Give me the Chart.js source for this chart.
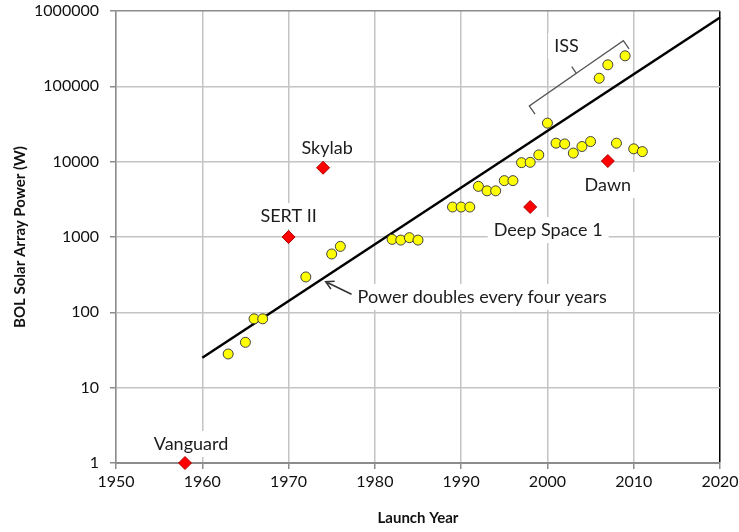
<!DOCTYPE html>
<html>
<head>
<meta charset="utf-8">
<script src="https://cdn.jsdelivr.net/npm/chart.js@4.4.1/dist/chart.umd.min.js"></script>
<style>
  html, body { margin: 0; padding: 0; background: #fff; }
  #wrap { width: 739px; height: 532px; position: relative; }
</style>
</head>
<body>
<div id="wrap"><canvas id="chart"></canvas></div>
<script>
// spacecraft solar arrays (yellow circles)
const craftYears = [1963, 1965, 1966, 1967, 1972, 1975, 1976, 1982, 1983, 1984, 1985,
  1989, 1990, 1991, 1992, 1993, 1994, 1995, 1996, 1997, 1998, 1999, 2000,
  2001, 2002, 2003, 2004, 2005, 2006, 2007, 2008, 2009, 2010, 2011];
const craftPower = [28, 40, 82, 82, 295, 595, 750, 930, 910, 980, 910,
  2500, 2500, 2500, 4700, 4100, 4100, 5600, 5600, 9700, 9800, 12300, 32500,
  17600, 17200, 13000, 15900, 18500, 128000, 193000, 17600, 254000, 14800, 13600];

// named missions (red diamonds)
const missionNames = ['Vanguard', 'SERT II', 'Skylab', 'Deep Space 1', 'Dawn'];
const missionYears = [1958, 1970, 1974, 1998, 2007];
const missionPower = [1, 1000, 8300, 2500, 10200];

// fitted trend, power doubles every four years
const trendYears = [1960, 2020];
const trendPower = [25, 819200];

const yearTicks = [1950, 1960, 1970, 1980, 1990, 2000, 2010, 2020];
const powerTicks = [1, 10, 100, 1000, 10000, 100000, 1000000];

const FONT = "Lato, 'Open Sans', sans-serif";
Chart.defaults.font.family = FONT;
Chart.defaults.color = '#111';

// label offsets (px) from each mission marker
const labelShift = [[6, -19], [0, -21], [4, -20], [18, 23], [0, 24]];

function pts(xs, ys) {
    return xs.map((v, i) => ({ x: v, y: ys[i] }));
}

function boxText(ctx, text, px, py, align) {
    const w = ctx.measureText(text).width;
    const left = align === 'left' ? px : px - w / 2;
    ctx.fillStyle = '#fff';
    ctx.fillRect(left - 6, py - 13, w + 12, 26);
    ctx.fillStyle = '#1c1c1c';
    ctx.textAlign = align;
    ctx.fillText(text, px, py);
}

const notes = {
    id: 'notes',
    beforeDatasetsDraw(chart) {
        const ctx = chart.ctx;
        const x = chart.scales.x, y = chart.scales.y;
        ctx.save();
        ctx.font = '18px ' + FONT;
        ctx.textBaseline = 'middle';

        missionNames.forEach((name, i) => {
            const px = x.getPixelForValue(missionYears[i]) + labelShift[i][0];
            const py = y.getPixelForValue(missionPower[i]) + labelShift[i][1];
            boxText(ctx, name, px, py, 'center');
        });

        // trend note with arrow
        boxText(ctx, 'Power doubles every four years',
            x.getPixelForValue(1978), y.getPixelForValue(160), 'left');
        const ax0 = x.getPixelForValue(1977.3), ay0 = y.getPixelForValue(174);
        const ax1 = x.getPixelForValue(1974.3), ay1 = y.getPixelForValue(255);
        const ang = Math.atan2(ay0 - ay1, ax0 - ax1);
        ctx.strokeStyle = '#333';
        ctx.lineWidth = 1.5;
        ctx.beginPath();
        ctx.moveTo(ax0, ay0);
        ctx.lineTo(ax1, ay1);
        ctx.moveTo(ax1 + 9 * Math.cos(ang + 0.5), ay1 + 9 * Math.sin(ang + 0.5));
        ctx.lineTo(ax1, ay1);
        ctx.lineTo(ax1 + 9 * Math.cos(ang - 0.5), ay1 + 9 * Math.sin(ang - 0.5));
        ctx.stroke();

        // ISS brace
        const bx0 = x.getPixelForValue(1997.9), by0 = y.getPixelForValue(55000);
        const bx1 = x.getPixelForValue(2008.8), by1 = y.getPixelForValue(404000);
        const len = Math.hypot(bx1 - bx0, by1 - by0);
        const dx = (bx1 - bx0) / len, dy = (by1 - by0) / len;
        const nx = -dy, ny = dx;
        const mx = (bx0 + bx1) / 2, my = (by0 + by1) / 2;
        ctx.strokeStyle = '#555';
        ctx.lineWidth = 1.3;
        ctx.beginPath();
        ctx.moveTo(bx0 + 10 * nx, by0 + 10 * ny);
        ctx.lineTo(bx0, by0);
        ctx.lineTo(mx, my);
        ctx.lineTo(mx - 8 * nx, my - 8 * ny);
        ctx.moveTo(mx, my);
        ctx.lineTo(bx1, by1);
        ctx.lineTo(bx1 + 10 * nx, by1 + 10 * ny);
        ctx.stroke();
        boxText(ctx, 'ISS', x.getPixelForValue(2002.2), y.getPixelForValue(343000), 'center');

        ctx.restore();
    }
};

new Chart(document.getElementById('chart'), {
    type: 'scatter',
    data: {
        datasets: [
            {
                label: 'Trend',
                data: pts(trendYears, trendPower),
                showLine: true,
                borderColor: '#000',
                borderWidth: 2.5,
                pointRadius: 0,
                order: 3,
                clip: false
            },
            {
                label: 'Spacecraft',
                data: pts(craftYears, craftPower),
                pointRadius: 5,
                backgroundColor: '#ffff00',
                borderColor: '#404040',
                borderWidth: 1,
                order: 2,
                clip: false
            },
            {
                label: 'Missions',
                data: pts(missionYears, missionPower),
                pointStyle: 'rectRot',
                pointRadius: 6.5,
                backgroundColor: '#ff0000',
                borderColor: '#b00000',
                borderWidth: 1,
                order: 1,
                clip: false
            }
        ]
    },
    options: {
        responsive: true,
        maintainAspectRatio: false,
        animation: false,
        layout: { padding: { left: 0, right: 19, top: 11, bottom: 0 } },
        plugins: { legend: { display: false }, tooltip: { enabled: false } },
        scales: {
            x: {
                type: 'linear',
                min: 1950,
                max: 2020,
                afterFit: (s) => { s.height = 69; s.paddingLeft = 0; s.paddingRight = 0; },
                afterBuildTicks: (s) => { s.ticks = yearTicks.map(v => ({ value: v })); },
                ticks: {
                    autoSkip: false,
                    maxRotation: 0,
                    padding: 3,
                    color: '#111',
                    font: { size: 16 },
                    callback: (v) => String(v)
                },
                grid: {
                    color: (c) => c.tick && c.tick.value === 2020 ? '#000' : '#c4c4c4',
                    lineWidth: 1.5,
                    tickLength: 6,
                    tickColor: '#8c8c8c'
                },
                border: { color: '#8c8c8c', width: 2 },
                title: {
                    display: true,
                    text: 'Launch Year',
                    font: { size: 15, weight: 'bold' },
                    color: '#111',
                    padding: { top: 0, bottom: 5 }
                }
            },
            y: {
                type: 'logarithmic',
                min: 1,
                max: 1000000,
                afterFit: (s) => { s.width = 116; s.paddingTop = 0; s.paddingBottom = 0; },
                afterBuildTicks: (s) => { s.ticks = powerTicks.map(v => ({ value: v })); },
                ticks: {
                    autoSkip: false,
                    padding: 11,
                    color: '#111',
                    font: { size: 16 },
                    callback: (v) => String(v)
                },
                grid: {
                    color: (c) => c.tick && c.tick.value === 1000000 ? '#8c8c8c' : '#c4c4c4',
                    lineWidth: 1.5,
                    tickLength: 6,
                    tickColor: '#8c8c8c'
                },
                border: { color: '#8c8c8c', width: 1.5 },
                title: {
                    display: true,
                    text: 'BOL Solar Array Power (W)',
                    font: { size: 15, weight: 'bold' },
                    color: '#111',
                    padding: { top: 11, bottom: 0 }
                }
            }
        }
    },
    plugins: [notes]
});
</script>
</body>
</html>
